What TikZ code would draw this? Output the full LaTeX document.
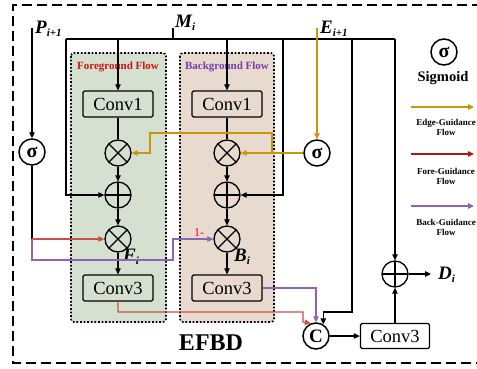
\documentclass[tikz,border=0pt]{standalone}
\usepackage{fontspec}
\setmainfont{Liberation Serif}
\usetikzlibrary{arrows.meta,calc}
\definecolor{gold}{RGB}{200,150,10}
\definecolor{redf}{RGB}{200,80,70}
\definecolor{legred}{RGB}{180,20,20}
\definecolor{purp}{RGB}{140,100,180}
\definecolor{purptxt}{RGB}{120,60,170}
\definecolor{greenbg}{RGB}{213,224,208}
\definecolor{tanbg}{RGB}{233,218,207}
\newcommand{\mylab}[2]{{\fontsize{19}{19}\selectfont\bfseries\itshape #1\raisebox{-0.3ex}{\fontsize{11}{11}\selectfont #2}}}
\begin{document}
\begin{tikzpicture}[x=1pt,y=-1pt,
  conv/.style={draw, line width=1.3pt, rounded corners=1.5pt, minimum width=70pt, minimum height=26pt, inner sep=0pt, font=\fontsize{18.5}{18.5}\selectfont},
  op/.style={circle, draw, line width=1.3pt, minimum size=26pt, inner sep=0pt},
  otimesn/.style={op, path picture={\draw[line width=1.3pt] (path picture bounding box.north west) -- (path picture bounding box.south east) (path picture bounding box.north east) -- (path picture bounding box.south west);}},
  oplusn/.style={op, path picture={\draw[line width=1.3pt] (path picture bounding box.north) -- (path picture bounding box.south) (path picture bounding box.east) -- (path picture bounding box.west);}},
  sig/.style={op, line width=1.5pt, font=\fontsize{20}{20}\selectfont\bfseries},
  panel/.style={line width=1.6pt, dash pattern=on 1.8pt off 1.8pt, rounded corners=3pt},
  wire/.style={line width=1.2pt},
  arr/.style={wire, -{Triangle[length=6pt,width=5.5pt]}},
  legtxt/.style={align=center, font=\fontsize{9}{10}\selectfont\bfseries},
  lab/.style={inner sep=0pt}
]
\useasboundingbox (0,0) rectangle (477,368);
% outer dashed frame
\draw[line width=1.4pt, dash pattern=on 10pt off 5pt] (482,5) -- (13,5) -- (13,363) -- (482,363);

% panels
\filldraw[panel, fill=greenbg] (71,53) rectangle (166,322);
\filldraw[panel, fill=tanbg] (180,53) rectangle (274,322);
\node[lab, text={rgb,255:red,200;green,20;blue,20}, font=\fontsize{11}{11}\selectfont\bfseries] (fgt) at (118,67) {Foreground Flow};
\node[lab, text=purptxt, font=\fontsize{11}{11}\selectfont\bfseries] (bgt) at (227,67) {Background Flow};

% foreground flow
\node[conv] (fc1) at (118,104) {Conv1};
\node[otimesn] (fm1) at (118,153) {};
\node[oplusn] (fa) at (118,195) {};
\node[otimesn] (fm2) at (118,239) {};
\node[conv] (fc3) at (118,288) {Conv3};
% background flow
\node[conv] (bc1) at (227,104) {Conv1};
\node[otimesn] (bm1) at (227,153) {};
\node[oplusn] (ba) at (227,195) {};
\node[otimesn] (bm2) at (227,239) {};
\node[conv] (bc3) at (227,288) {Conv3};

\draw[wire] (fc1) -- (fm1);
\draw[arr] (fm1) -- (fa);
\draw[arr] (fa) -- (fm2);
\draw[arr] (fm2) -- (fc3);
\draw[wire] (bc1) -- (bm1);
\draw[arr] (bm1) -- (ba);
\draw[arr] (ba) -- (bm2);
\draw[arr] (bm2) -- (bc3);

\node[lab, anchor=west] (Fi) at (123,257) {\mylab{F}{i}};
\node[lab, anchor=west] (Bi) at (234,257) {\mylab{B}{i}};

% sigma nodes
\node[sig] (sp) at (32,152) {σ};
\node[sig] (se) at (317,153) {σ};
\node[lab, anchor=west] (Pl) at (35,29) {\mylab{P}{i+1}};
\node[lab, anchor=west] (Ml) at (175,23) {\mylab{M}{i}};
\node[lab, anchor=west] (El) at (320,29) {\mylab{E}{i+1}};
\coordinate (ptop) at (32,28);
\coordinate (etop) at (317,28);
\coordinate (mtop) at (173,28);

% M wiring
\coordinate (mh) at (173,39);
\coordinate (hl) at (66,39);
\coordinate (hr) at (395,39);
\draw[wire] (mtop) -- (mh);
\draw[wire] (hl) -- (hr);
\draw[arr] (fc1.north |- mh) -- (fc1.north);
\draw[arr] (bc1.north |- mh) -- (bc1.north);
\draw[arr] (hl) |- (fa.west);
\coordinate (mr1) at (283,39);
\draw[arr] (mr1) |- (ba.east);

% P wiring
\draw[arr] (ptop) -- (sp.north);
\coordinate (pj) at (32,239);
\coordinate (pb) at (32,260);
\coordinate (pk) at (173,260);
\draw[wire] (sp.south) -- (pj);
\draw[arr, redf] (pj) -- (fm2.west);
\draw[arr, purp] (pj) -- (pb) -- (pk) |- (bm2.west);
\node[lab, text=red, font=\fontsize{12}{12}\selectfont] (one) at (199,233) {1-};

% E wiring
\draw[arr, gold] (etop) -- (se.north);
\draw[arr, gold] (se.west) -- (bm1.east);
\coordinate (g1) at (272,153);
\coordinate (g2) at (272,133);
\coordinate (g3) at (150,133);
\draw[arr, gold] (g1) -- (g2) -- (g3) |- (fm1.east);

% C node and right side
\node[op, line width=1.5pt, font=\fontsize{19}{19}\selectfont\bfseries] (C) at (316,336) {C};
\node[conv, fill=white, minimum width=69pt, minimum height=25pt] (rc3) at (395,336) {Conv3};
\node[oplusn] (ra) at (395,274) {};
\node[lab, anchor=west] (Di) at (438,275) {\mylab{D}{i}};
\coordinate (dend) at (431,274);

\coordinate (rb) at (118,312);
\coordinate (rc) at (303,312);
\coordinate (rd) at (303,322);
\draw[arr, redf] (fc3.south) -- (rb) -- (rc) -- (rd) -- (C.112);
\draw[arr, purp] (bc3.east) -| (C.north);
\coordinate (kb) at (352,39);
\coordinate (kc) at (352,312);
\draw[arr] (kb) -- (kc) -| (C.58);
\draw[arr] (C.east) -- (rc3.west);
\draw[arr] (rc3.north) -- (ra.south);
\draw[arr] (hr) -- (ra.north);
\draw[arr] (ra.east) -- (dend);

\node[lab, font=\fontsize{24}{24}\selectfont\bfseries] (efbd) at (211,343) {EFBD};

% legend
\node[sig] (ls) at (444,52) {σ};
\node[lab, font=\fontsize{14.5}{14.5}\selectfont\bfseries] (lst) at (443,78) {Sigmoid};
\coordinate (l1a) at (411,107); \coordinate (l1b) at (474,107);
\coordinate (l2a) at (411,154); \coordinate (l2b) at (474,154);
\coordinate (l3a) at (411,206); \coordinate (l3b) at (474,206);
\draw[arr, gold, line width=1.5pt] (l1a) -- (l1b);
\draw[arr, legred, line width=1.5pt] (l2a) -- (l2b);
\draw[arr, purp, line width=1.5pt] (l3a) -- (l3b);
\node[legtxt] (lt1) at (446,127) {Edge-Guidance\\Flow};
\node[legtxt] (lt2) at (446,176) {Fore-Guidance\\Flow};
\node[legtxt] (lt3) at (446,227) {Back-Guidance\\Flow};
\end{tikzpicture}
\end{document}
